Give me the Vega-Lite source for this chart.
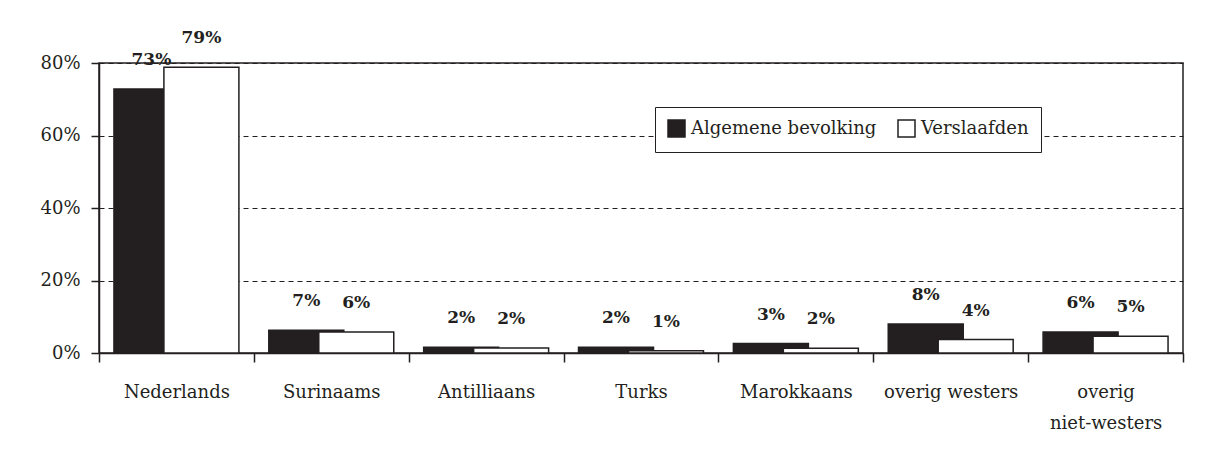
{
  "$schema": "https://vega.github.io/schema/vega-lite/v6.json",
  "width": 1084,
  "height": 290,
  "autosize": {"type": "none"},
  "padding": {"left": 99, "top": 63, "right": 29, "bottom": 101},
  "background": "white",
  "config": {
    "view": {"stroke": "#231f20", "strokeWidth": 1.5},
    "font": "DejaVu Serif"
  },
  "data": {
    "values": [
      {"groep": "Nederlands", "reeks": "Algemene bevolking", "waarde": 72.8, "label": "73%"},
      {"groep": "Nederlands", "reeks": "Verslaafden", "waarde": 78.8, "label": "79%"},
      {"groep": "Surinaams", "reeks": "Algemene bevolking", "waarde": 6.3, "label": "7%"},
      {"groep": "Surinaams", "reeks": "Verslaafden", "waarde": 5.8, "label": "6%"},
      {"groep": "Antilliaans", "reeks": "Algemene bevolking", "waarde": 1.6, "label": "2%"},
      {"groep": "Antilliaans", "reeks": "Verslaafden", "waarde": 1.4, "label": "2%"},
      {"groep": "Turks", "reeks": "Algemene bevolking", "waarde": 1.6, "label": "2%"},
      {"groep": "Turks", "reeks": "Verslaafden", "waarde": 0.6, "label": "1%"},
      {"groep": "Marokkaans", "reeks": "Algemene bevolking", "waarde": 2.6, "label": "3%"},
      {"groep": "Marokkaans", "reeks": "Verslaafden", "waarde": 1.3, "label": "2%"},
      {"groep": "overig westers", "reeks": "Algemene bevolking", "waarde": 8.0, "label": "8%"},
      {"groep": "overig westers", "reeks": "Verslaafden", "waarde": 3.7, "label": "4%"},
      {"groep": "overig niet-westers", "reeks": "Algemene bevolking", "waarde": 5.8, "label": "6%"},
      {"groep": "overig niet-westers", "reeks": "Verslaafden", "waarde": 4.6, "label": "5%"}
    ]
  },
  "encoding": {
    "x": {
      "field": "groep", "type": "nominal", "sort": null,
      "scale": {"paddingInner": 0, "paddingOuter": 0},
      "axis": {
        "title": null, "labelAngle": 0, "tickBand": "extent", "tickSize": 9,
        "tickColor": "#231f20", "tickWidth": 1.5, "domainColor": "#231f20", "domainWidth": 1.5,
        "labelFontSize": 18, "labelColor": "#231f20", "labelPadding": 21, "labelLineHeight": 31,
        "labelBaseline": "top", "grid": false,
        "labelExpr": "datum.label == 'overig niet-westers' ? ['overig', 'niet-westers'] : datum.label"
      }
    },
    "xOffset": {
      "field": "reeks", "type": "nominal", "sort": ["Algemene bevolking", "Verslaafden"],
      "scale": {"paddingInner": 0, "paddingOuter": 0.55}
    },
    "y": {
      "field": "waarde", "type": "quantitative",
      "scale": {"domain": [0, 80], "nice": false},
      "axis": {
        "title": null, "values": [0, 20, 40, 60, 80], "labelExpr": "datum.value + '%'",
        "tickSize": 8, "tickColor": "#231f20", "tickWidth": 1.5,
        "domainColor": "#231f20", "domainWidth": 1.5,
        "labelFontSize": 18, "labelColor": "#231f20", "labelPadding": 11,
        "grid": true, "gridDash": [5, 4], "gridColor": "#231f20", "gridWidth": 1
      }
    }
  },
  "layer": [
    {
      "mark": {"type": "bar", "width": 75, "stroke": "#231f20", "strokeWidth": 1.5},
      "encoding": {
        "fill": {
          "field": "reeks", "type": "nominal",
          "scale": {"domain": ["Algemene bevolking", "Verslaafden"], "range": ["#231f20", "#ffffff"]},
          "legend": {
            "orient": "none", "legendX": 556, "legendY": 44, "direction": "horizontal",
            "title": null, "fillColor": "white", "strokeColor": "#231f20", "padding": 12,
            "symbolType": "square", "symbolSize": 289, "symbolStrokeColor": "#231f20",
            "symbolStrokeWidth": 1.5, "symbolOpacity": 1, "labelFontSize": 18, "labelColor": "#231f20",
            "labelOffset": 5, "columnPadding": 18, "labelLimit": 300
          }
        }
      }
    },
    {
      "mark": {"type": "text", "fontWeight": "bold", "fontSize": 17, "dy": -29, "baseline": "middle", "color": "#231f20"},
      "encoding": {"text": {"field": "label"}}
    }
  ]
}
